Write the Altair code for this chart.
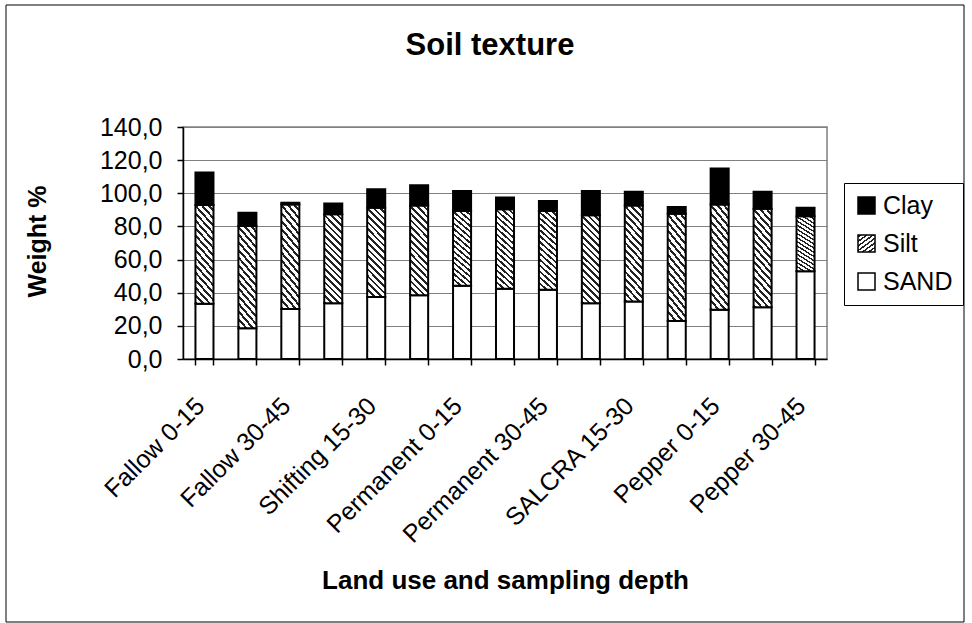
import json
import altair as alt
import pandas as pd

categories = [
    "Fallow 0-15", "Fallow 15-30", "Fallow 30-45",
    "Shifting 0-15", "Shifting 15-30", "Shifting 30-45",
    "Permanent 0-15", "Permanent 15-30", "Permanent 30-45",
    "SALCRA 0-15", "SALCRA 15-30", "SALCRA 30-45",
    "Pepper 0-15", "Pepper 15-30", "Pepper 30-45",
]
sand = [33.3, 18.6, 30.1, 33.7, 37.4, 38.4, 44.2, 42.4, 41.8, 33.7, 34.7, 23.0, 29.7, 31.3, 52.9]
silt = [59.6, 61.6, 63.2, 53.6, 53.9, 54.3, 45.1, 47.9, 47.5, 53.0, 58.0, 64.7, 63.6, 59.4, 33.3]
clay = [19.6, 8.1, 1.0, 6.6, 11.1, 12.1, 12.1, 7.1, 6.0, 14.7, 8.3, 4.0, 21.6, 10.3, 5.1]
components = ["Clay", "Silt", "SAND"]
y_ticks = [0, 20, 40, 60, 80, 100, 120, 140]

rows = []
for i, c in enumerate(categories):
    rows.append({"Category": c, "Component": "SAND", "Value": sand[i], "Order": 0})
    rows.append({"Category": c, "Component": "Silt", "Value": silt[i], "Order": 1})
    rows.append({"Category": c, "Component": "Clay", "Value": clay[i], "Order": 2})
df = pd.DataFrame(rows)

# diagonal hatch imitation for "Silt" using a striped linear gradient
N = 16
w_ref, h_ref = 18.0, 88.0
al = w_ref / (w_ref + h_ref)
ga = h_ref / (w_ref + h_ref)
den = al * al + ga * ga
gx2, gy2 = al / den, ga / den
stops = []
for k in range(N):
    s = k / N
    e = (k + 0.4) / N
    f = (k + 1) / N
    stops += [
        "{offset:%.4f,color:'#222222'}" % s,
        "{offset:%.4f,color:'#222222'}" % e,
        "{offset:%.4f,color:'#ffffff'}" % e,
        "{offset:%.4f,color:'#ffffff'}" % f,
    ]
hatch_expr = "{gradient:'linear',x1:0,y1:1,x2:%.4f,y2:%.4f,stops:[%s]}" % (gx2, 1 - gy2, ",".join(stops))

shown = json.dumps(categories)
x_label_expr = "indexof(%s, datum.value) %% 2 === 0 ? datum.label : ''" % shown
y_label_expr = "replace(format(datum.value, '.1f'), '.', ',')"

FONT = "Liberation Sans"

bars = alt.Chart(df).mark_bar(stroke="black", strokeWidth=2).encode(
    x=alt.X(
        "Category:N",
        sort=categories,
        scale=alt.Scale(paddingInner=0.58, paddingOuter=0.29),
        axis=alt.Axis(
            title="Land use and sampling depth",
            labelAngle=-45,
            labelAlign="right",
            labelBaseline="top",
            labelExpr=x_label_expr,
            labelPadding=28,
            labelOffset=-13,
            labelFontSize=25,
            labelLimit=500,
            tickBand="extent",
            tickSize=6,
            grid=False,
            titleX=322,
            titleY=229,
            titleBaseline="alphabetic",
            titleAlign="center",
            titleFontSize=26,
        ),
    ),
    y=alt.Y(
        "Value:Q",
        stack="zero",
        scale=alt.Scale(domain=[0, 140], nice=False),
        axis=alt.Axis(
            title="Weight %",
            values=y_ticks,
            labelExpr=y_label_expr,
            labelFontSize=25,
            labelPadding=15,
            tickSize=6,
            grid=True,
            gridColor="#808080",
            gridWidth=1,
            titleX=-146,
            titleY=114,
            titleAngle=-90,
            titleBaseline="middle",
            titleAlign="center",
            titleFontSize=25,
        ),
    ),
    fill=alt.Fill(
        "Component:N",
        scale=alt.Scale(domain=components, range=["black", alt.ExprRef(hatch_expr), "white"]),
        legend=alt.Legend(
            title=None,
            orient="none",
            legendX=661,
            legendY=56,
            symbolType="square",
            symbolSize=289,
            symbolStrokeColor="black",
            symbolStrokeWidth=1.5,
            labelFontSize=25,
            labelFont=FONT,
            labelColor="black",
            labelOffset=4,
            rowPadding=12,
            padding=10,
            strokeColor="black",
            fillColor="white",
        ),
    ),
    order=alt.Order("Order:Q"),
)

frame = alt.Chart(pd.DataFrame({"k": [0]})).mark_rect(
    fill="transparent", stroke="black", strokeWidth=1
).encode(
    x=alt.value(-177), x2=alt.value(781), y=alt.value(-122), y2=alt.value(495)
)

chart = alt.layer(frame, bars).properties(
    width=644,
    height=232,
    autosize=alt.AutoSizeParams(type="none"),
    padding={"left": 183, "top": 127, "right": 145, "bottom": 264},
    title=alt.TitleParams(
        "Soil texture",
        fontSize=31,
        fontWeight="bold",
        font=FONT,
        color="black",
        anchor="middle",
        dx=-15,
        offset=-81,
        baseline="alphabetic",
    ),
).configure(
    font=FONT,
    background="white",
).configure_view(
    stroke="#808080", strokeWidth=1.5
).configure_axis(
    labelFont=FONT,
    titleFont=FONT,
    labelColor="black",
    titleColor="black",
    titleFontWeight="bold",
    domainColor="black",
    domainWidth=1.5,
    tickColor="black",
    tickWidth=1.5,
)

chart.save("out.html", embed_options={"renderer": "svg", "actions": False})
